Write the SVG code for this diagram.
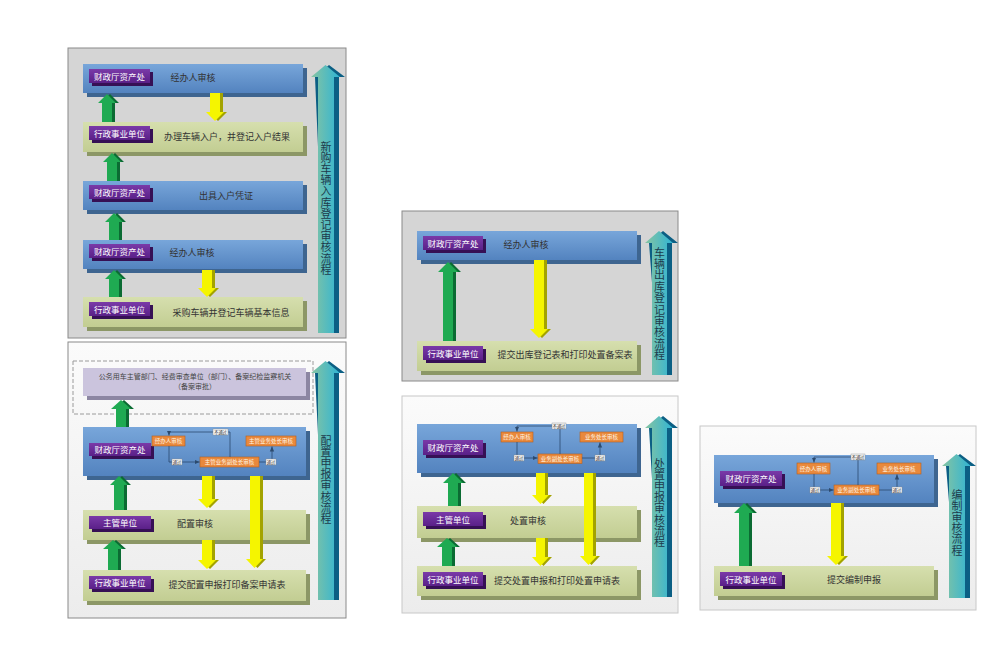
<svg xmlns="http://www.w3.org/2000/svg" width="1000" height="667" viewBox="0 0 1000 667">
<defs>
<linearGradient id="gBlue" x1="0" y1="0" x2="0" y2="1"><stop offset="0" stop-color="#78a6da"/><stop offset="1" stop-color="#5383bf"/></linearGradient>
<linearGradient id="gOlive" x1="0" y1="0" x2="0" y2="1"><stop offset="0" stop-color="#d6dfae"/><stop offset="1" stop-color="#c2cd92"/></linearGradient>
<linearGradient id="gTeal" x1="0" y1="0" x2="1" y2="0"><stop offset="0" stop-color="#86c4a2"/><stop offset="1" stop-color="#2fb4d4"/></linearGradient>
<linearGradient id="gPurple" x1="0" y1="0" x2="0" y2="1"><stop offset="0" stop-color="#7a3aa8"/><stop offset="1" stop-color="#5a2088"/></linearGradient>
<linearGradient id="gWhite" x1="0" y1="0" x2="0" y2="1"><stop offset="0" stop-color="#fbfbfb"/><stop offset="1" stop-color="#ececec"/></linearGradient>
<marker id="ah" markerWidth="6" markerHeight="6" refX="5" refY="3" orient="auto" markerUnits="userSpaceOnUse"><path d="M0,0.8 L5,3 L0,5.2 z" fill="#2c4a6e"/></marker>
</defs>
<style>
text{font-family:"Noto Sans CJK SC","Liberation Sans",sans-serif}
.bgG{fill:#d5d5d5;stroke:#8a8a8a;stroke-width:1}
.bgW{fill:url(#gWhite);stroke:#c8c8c8;stroke-width:1}
.bb{fill:url(#gBlue)}
.bbd{fill:#3e6590}
.bo{fill:url(#gOlive)}
.bod{fill:#8c9766}
.bl{fill:#cbc4dd}
.bld{fill:#8c86a2}
.lab{fill:url(#gPurple)}
.labd{fill:#361055}
.lt{fill:#fff;font-size:8.5px;text-anchor:middle}
.t{fill:#333;font-size:9px;text-anchor:middle}
.ga{fill:#1faa52}
.gad{fill:#0b6b33}
.ya{fill:#f5f500}
.yad{fill:#a3a300}
.ta{fill:url(#gTeal)}
.tad{fill:#0b5f84}
.vt{fill:#1d3b4c;font-size:11px;writing-mode:vertical-rl;text-orientation:upright;letter-spacing:0.2px}
.ob{fill:#e9893c;stroke:#b4601e;stroke-width:0.6}
.ot{fill:#fff6e6;font-size:5.5px;text-anchor:middle}
.pl{fill:#f4f4f4;stroke:#8a8a8a;stroke-width:0.4}
.pt{fill:#333;font-size:4.2px;text-anchor:middle}
.ln{fill:none;stroke:#2c4a6e;stroke-width:0.8}
.lavt{fill:#444;font-size:7px;text-anchor:middle}
</style>

<!-- panel backgrounds -->
<g id="panels">
<rect class="bgG" x="68" y="48" width="278" height="290"/>
<rect class="bgW" x="68" y="342" width="278" height="276" style="stroke:#8a8a8a"/>
<rect class="bgG" x="402" y="211" width="276" height="170"/>
<rect class="bgW" x="402" y="396" width="276" height="217"/>
<rect class="bgW" x="700" y="426" width="276" height="184"/>
</g>

<!-- ===== Panel 1 ===== -->
<g id="p1-n1"><rect class="bbd" x="87" y="68" width="220" height="29"/><rect class="bb" x="83" y="64" width="220" height="29"/><rect class="labd" x="92" y="72" width="61" height="14"/><rect class="lab" x="89" y="69" width="61" height="14"/><text class="lt" x="119.5" y="79.5">财政厅资产处</text><text class="t" x="193" y="81">经办人审核</text></g>
<g id="p1-n2"><rect class="bod" x="87" y="126" width="220" height="30"/><rect class="bo" x="83" y="122" width="220" height="30"/><rect class="labd" x="92" y="129" width="61" height="14"/><rect class="lab" x="89" y="126" width="61" height="14"/><text class="lt" x="119.5" y="136.5">行政事业单位</text><text class="t" x="227" y="140">办理车辆入户，并登记入户结果</text></g>
<g id="p1-n3"><rect class="bbd" x="87" y="185" width="220" height="29"/><rect class="bb" x="83" y="181" width="220" height="29"/><rect class="labd" x="92" y="188" width="61" height="14"/><rect class="lab" x="89" y="185" width="61" height="14"/><text class="lt" x="119.5" y="195.5">财政厅资产处</text><text class="t" x="226" y="199">出具入户凭证</text></g>
<g id="p1-n4"><rect class="bbd" x="87" y="244" width="220" height="29"/><rect class="bb" x="83" y="240" width="220" height="29"/><rect class="labd" x="92" y="247" width="61" height="14"/><rect class="lab" x="89" y="244" width="61" height="14"/><text class="lt" x="119.5" y="254.5">财政厅资产处</text><text class="t" x="192" y="256">经办人审核</text></g>
<g id="p1-n5"><rect class="bod" x="87" y="301" width="220" height="30"/><rect class="bo" x="83" y="297" width="220" height="30"/><rect class="labd" x="92" y="305" width="61" height="14"/><rect class="lab" x="89" y="302" width="61" height="14"/><text class="lt" x="119.5" y="312.5">行政事业单位</text><text class="t" x="231" y="316">采购车辆并登记车辆基本信息</text></g>
<g id="p1-title"><polygon class="tad" points="315,77 329,65 345,77 339,77 339,333 326,333"/><polygon class="ta" points="311,77 325.5,65 340,77 334,77 334,333 318,333 318,77"/>
<text class="vt" x="326" y="141">新购车辆入库登记审核流程</text></g>

<!-- ===== Panel 2 ===== -->
<g id="p2-n0"><rect x="73" y="361" width="240" height="53" fill="none" stroke="#9a9a9a" stroke-width="1" stroke-dasharray="4,2"/><rect class="bld" x="87" y="372" width="223" height="28"/><rect class="bl" x="83" y="368" width="223" height="28"/><text class="lavt" x="195" y="379">公务用车主管部门、经费审查单位（部门）、备案纪检监察机关</text><text class="lavt" x="195" y="389">（备案审批）</text></g>
<g id="p2-n1"><rect class="bbd" x="87" y="431" width="223" height="49"/><rect class="bb" x="83" y="427" width="223" height="49"/><rect class="labd" x="92" y="446" width="62" height="13"/><rect class="lab" x="89" y="443" width="62" height="13"/><text class="lt" x="120" y="452.5">财政厅资产处</text>
<rect class="ob" x="152" y="436" width="33" height="10"/><text class="ot" x="168.5" y="443">经办人审核</text>
<rect class="ob" x="246" y="436" width="50" height="10"/><text class="ot" x="271" y="443">主管业务处长审核</text>
<rect class="ob" x="200" y="457" width="59" height="10"/><text class="ot" x="229.5" y="464">主管业务副处长审核</text></g>
<g id="p2-n2"><rect class="bod" x="87" y="514" width="223" height="30"/><rect class="bo" x="83" y="510" width="223" height="30"/><rect class="labd" x="92" y="519" width="62" height="13"/><rect class="lab" x="89" y="516" width="62" height="13"/><text class="lt" x="120" y="525.5">主管单位</text><text class="t" x="195" y="527">配置审核</text></g>
<g id="p2-n3"><rect class="bod" x="87" y="574" width="223" height="31"/><rect class="bo" x="83" y="570" width="223" height="31"/><rect class="labd" x="92" y="579" width="62" height="13"/><rect class="lab" x="89" y="576" width="62" height="13"/><text class="lt" x="120" y="585.5">行政事业单位</text><text class="t" x="227" y="588">提交配置申报打印备案申请表</text></g>
<g id="p2-title"><polygon class="tad" points="315,373 329,361 345,373 339,373 339,600 326,600"/><polygon class="ta" points="311,373 325.5,361 340,373 334,373 334,600 318,600 318,373"/>
<text class="vt" x="326" y="435">配置申报审核流程</text></g>

<!-- ===== Panel 3 ===== -->
<g id="p3-n1"><rect class="bbd" x="421" y="235" width="220" height="29"/><rect class="bb" x="417" y="231" width="220" height="29"/><rect class="labd" x="426" y="239" width="60" height="14"/><rect class="lab" x="423" y="236" width="60" height="14"/><text class="lt" x="453" y="246.5">财政厅资产处</text><text class="t" x="526" y="248">经办人审核</text></g>
<g id="p3-n2"><rect class="bod" x="421" y="345" width="220" height="30"/><rect class="bo" x="417" y="341" width="220" height="30"/><rect class="labd" x="426" y="349" width="60" height="14"/><rect class="lab" x="423" y="346" width="60" height="14"/><text class="lt" x="453" y="356.5">行政事业单位</text><text class="t" x="565" y="358">提交出库登记表和打印处置备案表</text></g>
<g id="p3-title"><polygon class="tad" points="649,243 663,231 678,243 672,243 672,375 659,375"/><polygon class="ta" points="645,243 659,231 673,243 667,243 667,375 652,375 652,243"/>
<text class="vt" x="659.5" y="247" style="letter-spacing:0.4px">车辆出库登记审核流程</text></g>

<!-- ===== Panel 4 ===== -->
<g id="p4-n1"><rect class="bbd" x="421" y="428" width="220" height="49"/><rect class="bb" x="417" y="424" width="220" height="49"/><rect class="labd" x="426" y="443" width="60" height="15"/><rect class="lab" x="423" y="440" width="60" height="15"/><text class="lt" x="453" y="450.5">财政厅资产处</text>
<rect class="ob" x="501" y="432" width="32" height="10"/><text class="ot" x="517" y="439">经办人审核</text>
<rect class="ob" x="580" y="432" width="43" height="10"/><text class="ot" x="601.5" y="439">业务处长审核</text>
<rect class="ob" x="538" y="454" width="44" height="9.5"/><text class="ot" x="560" y="460.8">业务副处长审核</text></g>
<g id="p4-n2"><rect class="bod" x="421" y="510" width="220" height="32"/><rect class="bo" x="417" y="506" width="220" height="32"/><rect class="labd" x="426" y="515" width="60" height="14"/><rect class="lab" x="423" y="512" width="60" height="14"/><text class="lt" x="453" y="522.5">主管单位</text><text class="t" x="528" y="524">处置审核</text></g>
<g id="p4-n3"><rect class="bod" x="421" y="570" width="220" height="30"/><rect class="bo" x="417" y="566" width="220" height="30"/><rect class="labd" x="426" y="575" width="60" height="14"/><rect class="lab" x="423" y="572" width="60" height="14"/><text class="lt" x="453" y="582.5">行政事业单位</text><text class="t" x="557" y="584">提交处置申报和打印处置申请表</text></g>
<g id="p4-title"><polygon class="tad" points="649,428 663,416 678,428 672,428 672,597 659,597"/><polygon class="ta" points="645,428 659,416 673,428 667,428 667,597 652,597 652,428"/>
<text class="vt" x="659.5" y="458">处置申报审核流程</text></g>

<!-- ===== Panel 5 ===== -->
<g id="p5-n1"><rect class="bbd" x="718" y="459" width="220" height="48"/><rect class="bb" x="714" y="455" width="220" height="48"/><rect class="labd" x="723" y="474" width="62" height="15"/><rect class="lab" x="720" y="471" width="62" height="15"/><text class="lt" x="751" y="481.5">财政厅资产处</text>
<rect class="ob" x="797" y="463" width="33" height="11"/><text class="ot" x="813.5" y="470.5">经办人审核</text>
<rect class="ob" x="877" y="463" width="44" height="11"/><text class="ot" x="899" y="470.5">业务处长审核</text>
<rect class="ob" x="834" y="485" width="45" height="10"/><text class="ot" x="856.5" y="492">业务副处长审核</text></g>
<g id="p5-n2"><rect class="bod" x="718" y="570" width="220" height="30"/><rect class="bo" x="714" y="566" width="220" height="30"/><rect class="labd" x="723" y="575" width="62" height="14"/><rect class="lab" x="720" y="572" width="62" height="14"/><text class="lt" x="751" y="582.5">行政事业单位</text><text class="t" x="854" y="583">提交编制申报</text></g>
<g id="p5-title"><polygon class="tad" points="946,466 960,454 976,466 970,466 970,598 957,598"/><polygon class="ta" points="942,466 956.5,454 971,466 965,466 965,598 949,598 949,466"/>
<text class="vt" x="957" y="489">编制审核流程</text></g>

<!-- ===== Connectors ===== -->
<g id="connectors">
<!-- Panel 1 green up arrows -->
<polygon class="gad" points="101,103 110,94 119,103 115,103 115,122 105,122 105,103"/><polygon class="ga" points="98,103 107,94 116,103 112,103 112,122 102,122 102,103"/>
<polygon class="gad" points="106,162 115,153 124,162 120,162 120,181 110,181 110,162"/><polygon class="ga" points="103,162 112,153 121,162 117,162 117,181 107,181 107,162"/>
<polygon class="gad" points="108,222 117,213 126,222 122,222 122,240 112,240 112,222"/><polygon class="ga" points="105,222 114,213 123,222 119,222 119,240 109,240 109,222"/>
<polygon class="gad" points="108,279 117,270 126,279 122,279 122,297 112,297 112,279"/><polygon class="ga" points="105,279 114,270 123,279 119,279 119,297 109,297 109,279"/>
<!-- Panel 1 yellow down arrows -->
<polygon class="yad" points="213,93 223,93 223,112 227,112 218,121 209,112 213,112"/><polygon class="ya" points="210,93 220,93 220,112 224,112 215,121 206,112 210,112"/>
<polygon class="yad" points="205,270 215,270 215,288 219,288 210,297 201,288 205,288"/><polygon class="ya" points="202,270 212,270 212,288 216,288 207,297 198,288 202,288"/>

<!-- Panel 2 arrows -->
<polygon class="gad" points="114,409 124,400 134,409 129,409 129,427 119,427 119,409"/><polygon class="ga" points="111,409 121,400 131,409 126,409 126,427 116,427 116,409"/>
<polygon class="gad" points="113,485 122,476 131,485 127,485 127,510 117,510 117,485"/><polygon class="ga" points="110,485 119,476 128,485 124,485 124,510 114,510 114,485"/>
<polygon class="gad" points="106,549 116,540 126,549 121,549 121,570 111,570 111,549"/><polygon class="ga" points="103,549 113,540 123,549 118,549 118,570 108,570 108,549"/>
<polygon class="yad" points="205,476 215,476 215,499 219,499 210,508 201,499 205,499"/><polygon class="ya" points="202,476 212,476 212,499 216,499 207,508 198,499 202,499"/>
<polygon class="yad" points="205,540 215,540 215,560 219,560 210,569 201,560 205,560"/><polygon class="ya" points="202,540 212,540 212,560 216,560 207,569 198,560 202,560"/>
<polygon class="yad" points="253,476 263,476 263,559 266,559 257.5,568 249,559 253,559"/><polygon class="ya" points="250,476 260,476 260,559 263,559 254.5,568 246,559 250,559"/>
<!-- Panel 2 inner flow -->
<polyline class="ln" points="230,457 230,432 169,432 169,435.5" marker-end="url(#ah)"/>
<polyline class="ln" points="169,446 169,462 199.5,462" marker-end="url(#ah)"/>
<polyline class="ln" points="259,462 272,462 272,446.5" marker-end="url(#ah)"/>
<rect class="pl" x="213" y="429" width="15" height="6"/><text class="pt" x="220.5" y="433.6">不通过</text>
<rect class="pl" x="172" y="459" width="10" height="6"/><text class="pt" x="177" y="463.6">通过</text>
<rect class="pl" x="266" y="459" width="10" height="6"/><text class="pt" x="271" y="463.6">通过</text>

<!-- Panel 3 arrows -->
<polygon class="gad" points="441,272 451,262 461,272 456,272 456,341 446,341 446,272"/><polygon class="ga" points="438,272 448,262 458,272 453,272 453,341 443,341 443,272"/>
<polygon class="yad" points="537,260 547,260 547,329 551,329 542,338 533,329 537,329"/><polygon class="ya" points="534,260 544,260 544,329 548,329 539,338 530,329 534,329"/>

<!-- Panel 4 arrows -->
<polygon class="gad" points="446,483 456,473 466,483 461,483 461,506 451,506 451,483"/><polygon class="ga" points="443,483 453,473 463,483 458,483 458,506 448,506 448,483"/>
<polygon class="gad" points="440,547 450,538 460,547 455,547 455,566 445,566 445,547"/><polygon class="ga" points="437,547 447,538 457,547 452,547 452,566 442,566 442,547"/>
<polygon class="yad" points="539,473 548,473 548,495 552,495 543.5,504 535,495 539,495"/><polygon class="ya" points="536,473 545,473 545,495 549,495 540.5,504 532,495 536,495"/>
<polygon class="yad" points="539,538 548,538 548,557 552,557 543.5,566 535,557 539,557"/><polygon class="ya" points="536,538 545,538 545,557 549,557 540.5,566 532,557 536,557"/>
<polygon class="yad" points="587,473 596,473 596,556 600,556 591.5,565 583,556 587,556"/><polygon class="ya" points="584,473 593,473 593,556 597,556 588.5,565 580,556 584,556"/>
<!-- Panel 4 inner flow -->
<polyline class="ln" points="560,454 560,426 517,426 517,431.5" marker-end="url(#ah)"/>
<polyline class="ln" points="517,442 517,458 537.5,458" marker-end="url(#ah)"/>
<polyline class="ln" points="582,458 600,458 600,442.5" marker-end="url(#ah)"/>
<rect class="pl" x="552" y="423" width="14" height="6"/><text class="pt" x="559" y="427.6">不通过</text>
<rect class="pl" x="514" y="455" width="10" height="6"/><text class="pt" x="519" y="459.6">通过</text>
<rect class="pl" x="595" y="455" width="10" height="6"/><text class="pt" x="600" y="459.6">通过</text>

<!-- Panel 5 arrows -->
<polygon class="gad" points="737,513 747,503 757,513 752,513 752,566 742,566 742,513"/><polygon class="ga" points="734,513 744,503 754,513 749,513 749,566 739,566 739,513"/>
<polygon class="yad" points="834,503 844,503 844,556 848,556 839,565 830,556 834,556"/><polygon class="ya" points="831,503 841,503 841,556 845,556 836,565 827,556 831,556"/>
<!-- Panel 5 inner flow -->
<polyline class="ln" points="858,485 858,457 814,457 814,462.5" marker-end="url(#ah)"/>
<polyline class="ln" points="814,474 814,490 833.5,490" marker-end="url(#ah)"/>
<polyline class="ln" points="879,490 897,490 897,474.5" marker-end="url(#ah)"/>
<rect class="pl" x="851" y="454" width="14" height="6"/><text class="pt" x="858" y="458.6">不通过</text>
<rect class="pl" x="810" y="487" width="10" height="6"/><text class="pt" x="815" y="491.6">通过</text>
<rect class="pl" x="892" y="487" width="10" height="6"/><text class="pt" x="897" y="491.6">通过</text>
</g>
</svg>
